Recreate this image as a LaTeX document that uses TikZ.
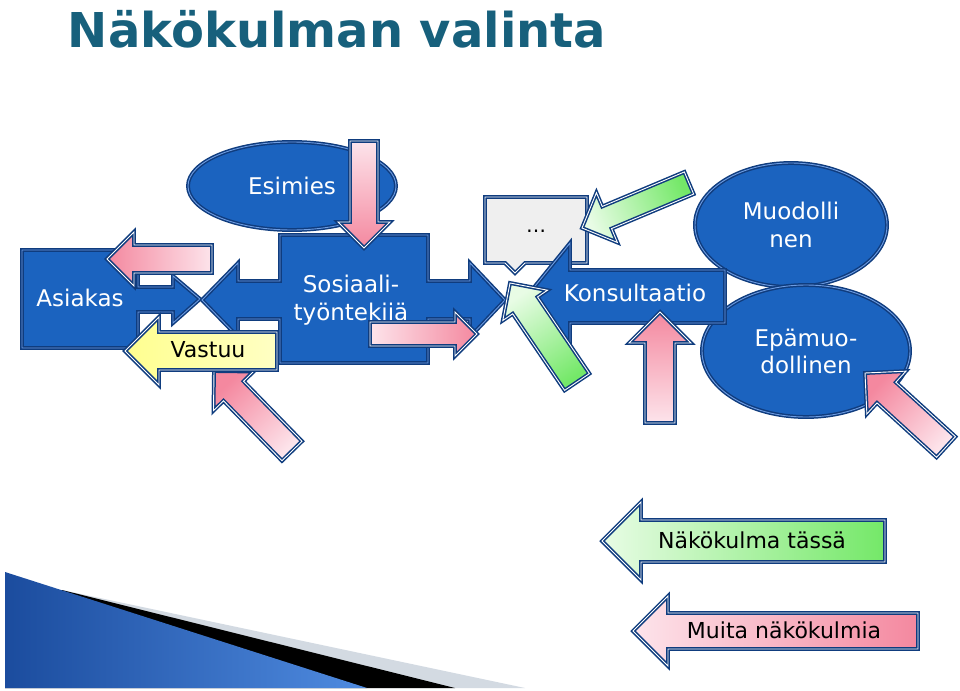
\documentclass[tikz,border=0pt]{standalone}
\usepackage{fontspec}
\setmainfont{DejaVu Sans}
\usetikzlibrary{calc,shapes.geometric}
\definecolor{titleteal}{HTML}{17607C}
\definecolor{boxblue}{HTML}{1B63BF}
\definecolor{edgeblue}{HTML}{0F3C7E}
\definecolor{rimblue}{HTML}{6D9CE2}
\definecolor{pinkhead}{HTML}{F4889F}
\definecolor{pinktail}{HTML}{FDE4EB}
\definecolor{greenhead}{HTML}{E8FCE5}
\definecolor{greentail}{HTML}{74E868}
\definecolor{yellowhead}{HTML}{FFFF8F}
\definecolor{yellowtail}{HTML}{FFFFC4}
\definecolor{notegray}{HTML}{EFEFEF}
\definecolor{swooshdark}{HTML}{1B4C9E}
\definecolor{swooshlight}{HTML}{4F8BE0}
\definecolor{swooshgray}{HTML}{D3DAE2}
\tikzset{
  rim/.style={draw=edgeblue, double=#1, line width=1.5pt, double distance=0.9pt, line join=miter},
  blueshape/.style={fill=boxblue, rim=rimblue},
  bubble/.style={ellipse, blueshape, text=white, align=center, inner sep=0pt,
                 font=\fontsize{23}{28}\selectfont},
  pinkarrow/.style={top color=pinkhead, bottom color=pinktail, rim=white},
  legendpink/.style={top color=pinktail, bottom color=pinkhead, rim=white},
  greenarrow/.style={top color=greenhead, bottom color=greentail, rim=white},
  yellowarrow/.style={top color=yellowhead, bottom color=yellowtail, rim=white},
  notebox/.style={fill=notegray, rim=white},
  title/.style={font=\fontsize{48}{54}\selectfont\bfseries, text=titleteal},
  lbl/.style={font=\fontsize{23}{28}\selectfont, text=white, align=center},
  darklbl/.style={font=\fontsize{22}{26}\selectfont, text=black},
}
% block arrow: style, tail, tip, shaft half width, head half width (= head length)
\newcommand\blockarrow[5]{%
  \coordinate (ba-t) at #2;
  \coordinate (ba-h) at #3;
  \pgfmathanglebetweenpoints{\pgfpointanchor{ba-t}{center}}{\pgfpointanchor{ba-h}{center}}%
  \pgfmathsetmacro\baangle{\pgfmathresult-90}%
  \coordinate (ba-b) at ($(ba-h)!#5pt!(ba-t)$);
  \path[#1, shading angle=\baangle]
    ($(ba-t)!#4pt!90:(ba-h)$) -- ($(ba-b)!#4pt!90:(ba-h)$) -- ($(ba-b)!#5pt!90:(ba-h)$)
    -- (ba-h) -- ($(ba-b)!#5pt!-90:(ba-h)$) -- ($(ba-b)!#4pt!-90:(ba-h)$)
    -- ($(ba-t)!#4pt!-90:(ba-h)$) -- cycle;
}

\begin{document}
\begin{tikzpicture}[x=1pt,y=-1pt]
\useasboundingbox (0,0) rectangle (960,690);

% Title and swoosh -------------------------------------------------------------
\node[title, anchor=base] (title) at (337,48) {Näkökulman valinta};

\fill[swooshgray] (62,590) -- (525,688) -- (5,688) -- cycle;
\fill[black] (62,590) -- (455,688) -- (5,688) -- cycle;
\shade[left color=swooshdark, right color=swooshlight] (5,572) -- (367,688) -- (5,688) -- cycle;

% Left group --------------------------------------------------------------------
\node[bubble, minimum width=208pt, minimum height=88pt] (esimies) at (292,186) {Esimies};

\path[blueshape] (22,250) -- (138,250) -- (138,287) -- (173,287) -- (173,276) -- (200,299)
  -- (173,323) -- (173,312) -- (138,312) -- (138,348) -- (22,348) -- cycle;
\node[lbl] (asiakas) at (80,298) {Asiakas};

\path[blueshape] (280,235) -- (428,235) -- (428,281) -- (470,281) -- (470,263) -- (505,300)
  -- (470,337) -- (470,319) -- (428,319) -- (428,363) -- (280,363) -- (280,319) -- (238,319)
  -- (238,337) -- (202,300) -- (238,263) -- (238,281) -- (280,281) -- cycle;
\node[lbl] (sosiaali) at (351,300) {Sosiaali-\\työntekijä};

\blockarrow{pinkarrow}{(212,259)}{(107,259)}{14}{27}
\blockarrow{pinkarrow}{(292,451)}{(214,371)}{14}{28}

\blockarrow{yellowarrow}{(277,351)}{(125,351)}{19}{34}
\node[darklbl] (vastuu) at (208,350) {Vastuu};

\blockarrow{pinkarrow}{(364,141)}{(364,248)}{14}{26}
\blockarrow{pinkarrow}{(370,334)}{(477,334)}{12}{22}

% Right group -------------------------------------------------------------------
\node[bubble, minimum width=192pt, minimum height=124pt] (muodollinen) at (791,225) {Muodolli\\nen};
\node[bubble, minimum width=208pt, minimum height=132pt,
      font=\fontsize{23}{27}\selectfont] (epamuodollinen) at (806,351) {Epämuo-\\dollinen};

\path[notebox] (485,197) -- (587,197) -- (587,263) -- (525,263) -- (515,273) -- (505,263)
  -- (485,263) -- cycle;
\node[font=\fontsize{20}{22}\selectfont] (note) at (536,231) {…};

\path[blueshape] (725,270) -- (725,323) -- (570,323) -- (570,350) -- (527,296) -- (570,243)
  -- (570,270) -- cycle;
\node[lbl] (konsultaatio) at (635,293) {Konsultaatio};

\blockarrow{greenarrow}{(689,183)}{(582,228)}{12}{27}
\blockarrow{greenarrow}{(577,382)}{(510,283)}{15}{27}
\blockarrow{pinkarrow}{(660,423)}{(660,312)}{15}{31}
\blockarrow{pinkarrow}{(946,447)}{(865,373)}{14}{29}

% Legend ------------------------------------------------------------------------
\blockarrow{greenarrow}{(885,541)}{(602,541)}{21}{39}
\node[darklbl] (tassa) at (752,540) {Näkökulma tässä};
\blockarrow{legendpink}{(918,631)}{(633,631)}{18}{35}
\node[darklbl] (muita) at (784,630) {Muita näkökulmia};

\end{tikzpicture}
\end{document}
